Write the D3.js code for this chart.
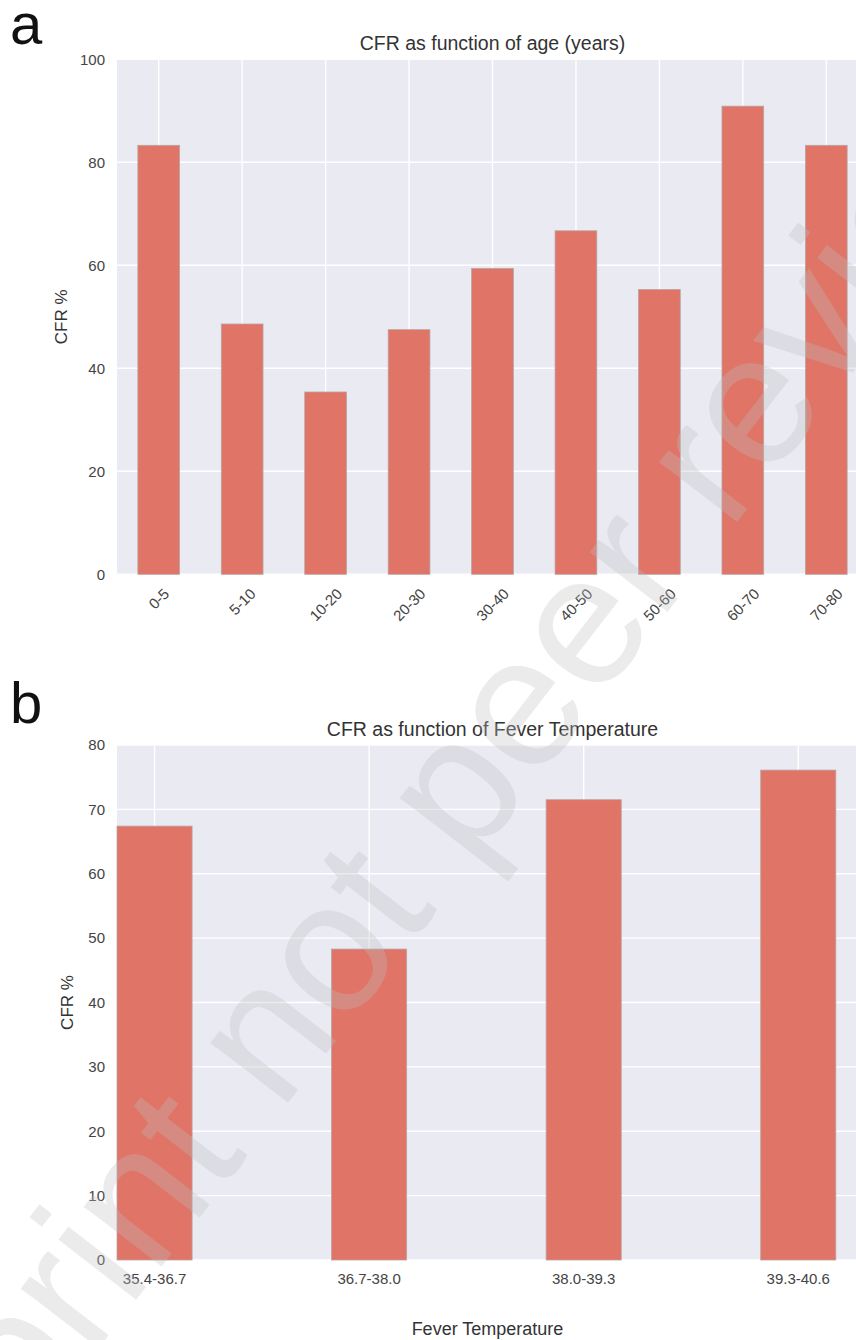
<!DOCTYPE html>
<html>
<head>
<meta charset="utf-8">
<script src="https://cdn.jsdelivr.net/npm/d3@7"></script>
<style>
  html, body { margin: 0; padding: 0; background: #ffffff; }
  svg { display: block; font-family: "Liberation Sans", Arial, Helvetica, sans-serif; }
</style>
</head>
<body>
<svg id="fig" width="856" height="1340"></svg>
<script>
// Panel a: case fatality rate by age group
const ageGroups = ["0-5", "5-10", "10-20", "20-30", "30-40", "40-50", "50-60", "60-70", "70-80"];
const ageCFR = [83.3, 48.6, 35.4, 47.5, 59.4, 66.7, 55.3, 90.9, 83.3];
const ageTicks = [0, 20, 40, 60, 80, 100];

// Panel b: case fatality rate by fever temperature bin
const feverBins = ["35.4-36.7", "36.7-38.0", "38.0-39.3", "39.3-40.6"];
const feverCFR = [67.4, 48.3, 71.5, 76.1];
const feverTicks = [0, 10, 20, 30, 40, 50, 60, 70, 80];

const BG = "#eaeaf2", BAR = "#e07466", BAR_EDGE = "#b9a3a3";
const TICK_COLOR = "#444", TEXT_COLOR = "#333";

const svg = d3.select("#fig");

const axLeft = 117, axRight = 868;

function panel(opts) {
  const g = svg.append("g");
  const y = d3.scaleLinear().domain([0, opts.ymax]).range([opts.bottom, opts.top]);

  g.append("rect")
    .attr("x", axLeft).attr("y", opts.top)
    .attr("width", axRight - axLeft).attr("height", opts.bottom - opts.top)
    .attr("fill", BG);

  // horizontal grid
  g.selectAll(".hg").data(opts.yticks).enter().append("line")
    .attr("x1", axLeft).attr("x2", axRight)
    .attr("y1", d => y(d)).attr("y2", d => y(d))
    .attr("stroke", "#fff").attr("stroke-width", 1.4);

  // vertical grid at category centres
  g.selectAll(".vg").data(opts.cats).enter().append("line")
    .attr("x1", d => opts.xc(d)).attr("x2", d => opts.xc(d))
    .attr("y1", opts.top).attr("y2", opts.bottom)
    .attr("stroke", "#fff").attr("stroke-width", 1.4);

  // bars
  g.selectAll(".bar").data(opts.values).enter().append("rect")
    .attr("x", (d, i) => opts.xc(opts.cats[i]) - opts.bw / 2)
    .attr("width", opts.bw)
    .attr("y", d => y(d))
    .attr("height", d => y(0) - y(d))
    .attr("fill", BAR)
    .attr("stroke", BAR_EDGE).attr("stroke-width", 0.8);

  // y axis tick labels
  const yAxis = d3.axisLeft(y).tickValues(opts.yticks).tickSize(0).tickPadding(12);
  const ya = g.append("g").attr("transform", `translate(${axLeft},0)`).call(yAxis);
  ya.select(".domain").remove();
  ya.selectAll("text")
    .attr("font-size", 15).attr("fill", TICK_COLOR)
    .attr("font-family", "'Liberation Sans', Arial, sans-serif");

  // title
  g.append("text")
    .attr("x", (axLeft + axRight) / 2).attr("y", opts.titleY)
    .attr("text-anchor", "middle").attr("font-size", 19.5).attr("fill", TEXT_COLOR)
    .text(opts.title);

  // y label
  g.append("text")
    .attr("transform", `translate(${opts.ylabX},${(opts.top + opts.bottom) / 2}) rotate(-90)`)
    .attr("text-anchor", "middle").attr("font-size", 17).attr("fill", TEXT_COLOR)
    .text("CFR %");

  // panel letter
  g.append("text")
    .attr("x", 10).attr("y", opts.letterY)
    .attr("font-size", 58).attr("fill", "#111")
    .text(opts.letter);

  return { g, y };
}

// ---- Panel a ----
const xa = d3.scaleBand().domain(ageGroups).range([axLeft, axRight]).paddingInner(0).paddingOuter(0);
const pa = panel({
  top: 59.3, bottom: 574.3, ymax: 100, yticks: ageTicks,
  cats: ageGroups, values: ageCFR,
  xc: d => xa(d) + xa.bandwidth() / 2, bw: xa.bandwidth() * 0.5,
  title: "CFR as function of age (years)", titleY: 50,
  ylabX: 67, letter: "a", letterY: 44
});

// rotated category labels, centred under each tick
ageGroups.forEach(d => {
  const t = pa.g.append("text")
    .attr("text-anchor", "middle").attr("dominant-baseline", "central")
    .attr("font-size", 15).attr("fill", TICK_COLOR).text(d);
  const w = t.node().getComputedTextLength();
  const h = 11;
  const cy = 587 + (w + h) * Math.SQRT1_2 / 2;
  t.attr("transform", `translate(${xa(d) + xa.bandwidth() / 2},${cy}) rotate(-45)`);
});

// ---- Panel b ----
const xb = d3.scaleLinear().domain([0, 3.5]).range([axLeft, axRight]);
const barW = 0.35;
const pb = panel({
  top: 745, bottom: 1260, ymax: 80, yticks: feverTicks,
  cats: feverBins, values: feverCFR,
  xc: d => xb(feverBins.indexOf(d) + barW / 2), bw: xb(barW) - xb(0),
  title: "CFR as function of Fever Temperature", titleY: 736,
  ylabX: 73, letter: "b", letterY: 723
});

pb.g.selectAll(".xl").data(feverBins).enter().append("text")
  .attr("x", d => xb(feverBins.indexOf(d) + barW / 2))
  .attr("y", 1284)
  .attr("text-anchor", "middle").attr("font-size", 15).attr("fill", TICK_COLOR)
  .text(d => d);

pb.g.append("text")
  .attr("x", (axLeft + axRight) / 2 - 5).attr("y", 1335)
  .attr("text-anchor", "middle").attr("font-size", 18).attr("fill", TEXT_COLOR)
  .text("Fever Temperature");

// diagonal preprint stamp across the figure
svg.append("text")
  .attr("transform", "translate(-137,1653) rotate(-52.3)")
  .attr("font-size", 186)
  .attr("fill", "rgb(191,191,195)").attr("fill-opacity", 0.31)
  .text("preprint not peer reviewed");
</script>
</body>
</html>
